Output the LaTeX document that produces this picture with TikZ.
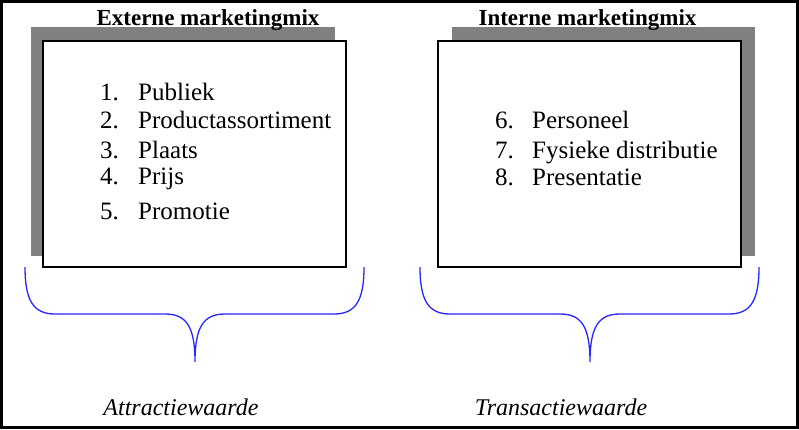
\documentclass[tikz,border=0pt]{standalone}
\usepackage{fontspec}
\setmainfont{Liberation Serif}
\begin{document}
\begin{tikzpicture}[x=1pt,y=-1pt,
  shadowbox/.style={fill=black!50},
  mainbox/.style={draw=black, line width=1.8pt, fill=white},
  titletext/.style={anchor=base, inner sep=0pt, font=\fontsize{23}{26}\selectfont\bfseries},
  itemnum/.style={anchor=base west, inner sep=0pt, font=\fontsize{25}{28}\selectfont},
  itemtext/.style={anchor=base west, inner sep=0pt, font=\fontsize{25}{28}\selectfont},
  valuetext/.style={anchor=base, inner sep=0pt, font=\fontsize{24}{27}\selectfont\itshape},
  bracepath/.style={draw=blue!85!white, line width=1.3pt}
]
\useasboundingbox (0,0) rectangle (799,429);
\draw[line width=2.5pt] (1.25,1.25) rectangle (797.5,427.5);

% left block
\fill[shadowbox] (31,27) rectangle (335,256);
\draw[mainbox] (43,41) rectangle (346,267);
\node[titletext] (t1) at (208,25) {Externe marketingmix};
\node[itemnum] (n1) at (100,100) {1.};
\node[itemtext] (i1) at (138,100) {Publiek};
\node[itemnum] (n2) at (100,128) {2.};
\node[itemtext] (i2) at (138,128) {Productassortiment};
\node[itemnum] (n3) at (100,158) {3.};
\node[itemtext] (i3) at (138,158) {Plaats};
\node[itemnum] (n4) at (100,184) {4.};
\node[itemtext] (i4) at (138,184) {Prijs};
\node[itemnum] (n5) at (100,219) {5.};
\node[itemtext] (i5) at (138,219) {Promotie};

% right block
\fill[shadowbox] (452,27) rectangle (755,256);
\draw[mainbox] (438,41) rectangle (741,267);
\node[titletext] (t2) at (587.5,25) {Interne marketingmix};
\node[itemnum] (n6) at (495,128) {6.};
\node[itemtext] (i6) at (532,128) {Personeel};
\node[itemnum] (n7) at (495,158) {7.};
\node[itemtext] (i7) at (532,158) {Fysieke distributie};
\node[itemnum] (n8) at (495,185) {8.};
\node[itemtext] (i8) at (532,185) {Presentatie};

% braces
\draw[bracepath] (25,267) .. controls (25,300) and (33,314) .. (55,314)
  -- (165,314) .. controls (186,314) and (195,326) .. (195,362)
  .. controls (195,326) and (204,314) .. (225,314)
  -- (334,314) .. controls (356,314) and (364,300) .. (364,267);
\draw[bracepath] (420,267) .. controls (420,300) and (428,314) .. (450,314)
  -- (560,314) .. controls (581,314) and (590,326) .. (590,362)
  .. controls (590,326) and (599,314) .. (620,314)
  -- (729,314) .. controls (751,314) and (759,300) .. (759,267);

\node[valuetext] (v1) at (181,415) {Attractiewaarde};
\node[valuetext] (v2) at (561,415) {Transactiewaarde};
\end{tikzpicture}
\end{document}
